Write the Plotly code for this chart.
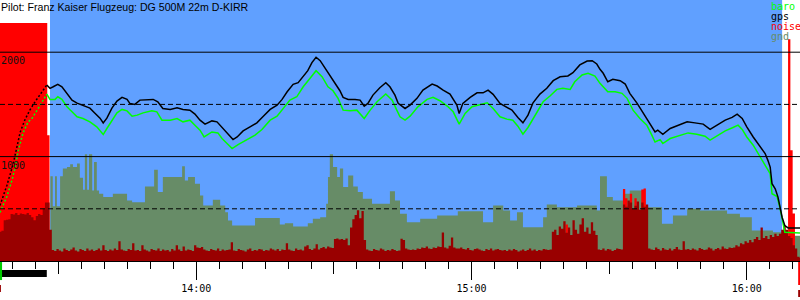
import pandas as pd
import plotly.graph_objects as go

BASE = pd.Timestamp("2000-01-01 13:00:00")


def T(mins):
    return [BASE + pd.Timedelta(minutes=m) for m in mins]


title_text = "Pilot: Franz Kaiser Flugzeug: DG 500M 22m D-KIRR"
hour_ticks = [60, 120, 180]
hour_labels = ["14:00", "15:00", "16:00"]
half_ticks = [30, 60, 90, 120, 150, 180]
legend_items = ["baro", "gps", "noise", "gnd"]
y_labels = [2000, 1000]

# times are minutes after 13:00
view_start, view_end = 17.2, 191.6
task_start, task_end = 28.1, 187.7
motor_end = 27.4

gps_t = [17.2, 18.7, 20.0, 20.9, 21.6, 22.6, 23.7, 24.8, 25.9, 27.4,
         28.1, 28.8, 29.8, 30.7, 31.8, 32.9, 34.0, 35.3, 36.8, 37.9, 39.0, 39.7, 40.5, 41.6, 42.7,
         43.8, 44.9, 45.5, 46.6, 47.7, 49.2, 50.6, 51.6, 52.7, 54.3, 55.8, 57.1, 58.6, 59.7, 60.8,
         61.9, 63.4, 64.5, 65.2, 66.3, 67.3, 68.0, 68.9, 70.2, 71.7, 73.2, 74.5, 76.1, 77.6, 78.7,
         79.8, 81.1, 82.2, 83.3, 84.3, 85.2, 86.1, 87.0, 88.1, 89.1, 90.2, 91.3, 92.0, 93.1, 94.6,
         95.7, 96.6, 97.4, 98.5, 100.0, 101.3, 102.2, 103.3, 104.0, 105.5, 106.6, 108.1, 109.4,
         111.4, 112.5, 113.8, 115.3, 116.8, 117.3, 118.1, 119.7, 121.2, 122.5, 123.6, 124.7, 126.2,
         127.7, 128.8, 130.1, 131.2, 132.3, 133.4, 134.9, 136.4, 137.8, 139.3, 141.0, 142.1, 143.6,
         145.2, 146.3, 147.3, 148.0, 148.7, 149.7, 150.8, 152.4, 153.5, 154.5, 156.1, 157.4, 158.9,
         160.0, 160.6, 161.7, 163.3, 165.0, 167.0, 168.7, 170.5, 172.0, 173.5, 175.3, 176.8, 177.9,
         179.0, 180.0, 181.4, 182.9, 184.0, 184.6, 185.1, 185.5, 186.2, 186.8, 187.7, 188.3, 189.0,
         191.6]
gps_alt = [532, 724, 916, 1109, 1234, 1349, 1445, 1522, 1589, 1686,
           1654, 1669, 1692, 1669, 1606, 1541, 1512, 1493, 1464, 1416, 1368, 1323, 1368, 1464, 1532,
           1567, 1548, 1510, 1500, 1541, 1548, 1548, 1525, 1461, 1452, 1467, 1452, 1445, 1407, 1349,
           1311, 1342, 1333, 1301, 1246, 1195, 1163, 1188, 1246, 1285, 1323, 1381, 1452, 1493, 1548,
           1621, 1692, 1708, 1772, 1823, 1900, 1952, 1919, 1846, 1788, 1717, 1631, 1567, 1548, 1548,
           1541, 1484, 1510, 1589, 1660, 1708, 1669, 1589, 1510, 1461, 1493, 1558, 1637,
           1695, 1676, 1637, 1599, 1493, 1413, 1510, 1567, 1611, 1611, 1637, 1596, 1510,
           1477, 1445, 1375, 1323, 1397, 1515, 1599, 1654, 1727, 1765, 1772, 1804, 1878,
           1916, 1919, 1887, 1836, 1798, 1717, 1740, 1727, 1695, 1606, 1510, 1419, 1317,
           1236, 1253, 1214, 1269, 1301, 1333, 1323, 1311, 1260, 1301, 1349, 1375, 1407,
           1365, 1285, 1188, 1099, 1029, 964, 900, 740, 692, 612, 419, 339, 317,
           317]

baro_t = [17.2, 18.7, 19.8, 20.5, 21.1, 21.6, 22.2, 23.3, 24.2, 25.3, 26.4, 27.4,
          28.1, 29.2, 29.8, 30.7, 31.8, 32.9, 34.0, 35.3, 36.8, 38.3, 39.7, 40.5, 41.6, 42.7,
          43.8, 44.9, 46.0, 47.1, 48.4, 50.3, 51.4, 52.5, 54.3, 55.8, 57.1, 58.6, 59.7, 60.8,
          61.7, 63.4, 64.7, 65.6, 66.7, 67.8, 69.1, 71.0, 72.8, 74.3, 76.1, 77.6, 78.9, 80.4,
          81.9, 83.3, 84.8, 86.1, 87.4, 88.7, 89.8, 90.9, 92.0, 93.5, 95.0, 95.7, 96.6, 97.9,
          99.4, 101.3, 102.7, 103.7, 104.4, 105.5, 106.6, 108.3, 110.3, 111.6, 113.1, 114.7,
          116.0, 117.3, 118.6, 120.1, 121.8, 123.4, 124.7, 126.2, 127.7, 129.0, 130.1, 131.2,
          132.3, 133.8, 135.6, 137.1, 138.6, 139.9, 141.5, 142.5, 144.1, 145.4, 146.9, 148.0,
          148.9, 149.7, 151.3, 152.8, 153.9, 155.2, 156.7, 158.2, 159.3, 160.0, 161.1, 161.7,
          163.3, 165.4, 167.2, 169.1, 170.9, 172.0, 173.5, 175.3, 177.0, 178.1, 179.0, 180.0,
          181.4, 182.9, 184.0, 185.1, 185.5, 186.6, 187.2, 187.9, 188.3, 191.6]
baro_alt = [464, 618, 772, 897, 1041, 1128, 1224, 1330, 1368, 1445, 1522, 1599,
            1548, 1548, 1573, 1548, 1477, 1429, 1381, 1365, 1333, 1285, 1211, 1269, 1349, 1419,
            1452, 1438, 1387, 1397, 1419, 1438, 1429, 1349, 1349, 1365, 1333, 1349, 1301, 1253,
            1188, 1236, 1227, 1173, 1125, 1077, 1115, 1163, 1205, 1260, 1349, 1387, 1461, 1541,
            1573, 1669, 1750, 1823, 1765, 1669, 1631, 1558, 1445, 1438, 1445, 1413, 1365, 1445,
            1525, 1599, 1541, 1445, 1381, 1349, 1387, 1477, 1548, 1567, 1535, 1484,
            1429, 1311, 1413, 1477, 1493, 1515, 1461, 1381, 1359, 1349, 1291, 1214,
            1279, 1397, 1525, 1580, 1644, 1654, 1644, 1717, 1782, 1798, 1772, 1702,
            1654, 1621, 1621, 1606, 1558, 1445, 1365, 1301, 1205, 1140, 1163, 1125,
            1173, 1205, 1227, 1214, 1195, 1157, 1195, 1246, 1279, 1301, 1260, 1188,
            1109, 996, 916, 836, 644, 618, 515, 371, 275, 269]

gnd_t = [28.2, 28.7, 29.2, 29.6, 30.3, 30.9, 31.8, 32.5, 33.1, 34.0, 34.6, 35.3, 35.7, 36.2,
         36.6, 37.3, 37.7, 38.3, 38.8, 39.7, 41.8, 44.9, 46.0, 48.8, 50.8, 51.6, 52.7, 56.9,
         57.5, 58.2, 59.7, 60.8, 61.5, 63.6, 65.2, 66.3, 66.9, 67.8, 72.8, 78.2, 79.3, 81.1,
         84.3, 85.4, 87.0, 88.3, 88.7, 89.1, 89.8, 90.7, 91.3, 92.0, 93.1, 94.2, 95.2, 96.3,
         98.3, 102.2, 103.3, 104.4, 105.9, 108.8, 112.5, 117.0, 122.5, 124.7, 126.9, 128.4,
         129.9, 131.2, 135.6, 136.4, 138.6, 143.0, 147.3, 148.0, 149.5, 150.8, 153.0, 154.5,
         157.4, 158.5, 161.5, 163.9, 167.0, 169.8, 175.7, 178.5, 181.1, 185.7, 187.7, 191.6]
gnd_alt = [811, 525, 811, 525, 811, 887, 900, 926, 900, 933, 798, 683, 1022, 683,
           1022, 676, 948, 676, 644, 612, 644, 580, 563, 714, 875, 660, 804, 907,
           772, 804, 740, 628, 532, 587, 532, 467, 387, 339, 413, 349, 362, 330,
           362, 404, 419, 548, 804, 1022, 900, 804, 885, 708, 820, 714, 660, 596,
           548, 669, 580, 452, 371, 404, 436, 477, 371, 532, 484, 387,
           467, 323, 419, 541, 515, 532, 484, 811, 612, 580, 644, 676,
           532, 515, 356, 436, 500, 484, 452, 419, 291, 275, 243, 243]

# engine noise, one value per 30 s from 13:17:00
noise_start = 17.0
noise_step = 0.5
noise = [
    280, 290, 390, 395, 400, 450, 445, 460, 440, 455, 450, 445, 460, 440, 420, 390, 430, 450, 440, 500,
    560, 560, 300, 105, 95, 115, 100, 90, 120, 105, 95, 110, 130, 100, 90, 115, 105, 95, 120, 100,
    110, 95, 105, 120, 100, 150, 105, 95, 110, 100, 120, 105, 190, 110, 100, 95, 115, 105, 170, 100,
    105, 95, 150, 110, 100, 90, 115, 105, 100, 120, 95, 110, 100, 105, 90, 115, 100, 150, 110, 95,
    140, 100, 110, 105, 95, 150, 130, 125, 135, 110, 100, 95, 115, 105, 100, 120, 95, 110, 100, 105,
    110, 180, 100, 95, 115, 105, 100, 90, 110, 120, 95, 105, 100, 115, 110, 95, 105, 100, 120, 110,
    100, 115, 95, 110, 105, 170, 110, 100, 95, 120, 105, 110, 100, 140, 150, 115, 105, 120, 160, 110,
    125, 135, 120, 140, 130, 125, 210, 215, 205, 210, 200, 215, 150, 320, 400, 440, 485, 410, 480, 200,
    110, 100, 95, 115, 105, 100, 120, 110, 95, 105, 100, 115, 105, 95, 100, 213, 200, 120, 110, 105,
    110, 105, 120, 115, 130, 125, 140, 120, 115, 130, 125, 140, 135, 272, 130, 120, 145, 224, 130, 120,
    120, 130, 115, 110, 125, 105, 100, 115, 120, 110, 100, 95, 115, 105, 120, 100, 110, 115, 105, 100,
    105, 95, 110, 100, 115, 105, 90, 100, 110, 95, 105, 120, 100, 110, 95, 105, 100, 115, 110, 105,
    110, 280, 300, 250, 330, 310, 380, 270, 320, 250, 390, 300, 260, 350, 410, 280, 320, 260, 370, 290,
    250, 110, 105, 120, 100, 115, 110, 95, 105, 120, 115, 110, 540, 520, 580, 560, 500, 530, 570, 490,
    560, 520, 540, 120, 110, 105, 130, 115, 100, 125, 110, 105, 120, 100, 115, 135, 110, 105, 190, 110,
    115, 105, 120, 110, 100, 125, 115, 105, 110, 130, 120, 100, 115, 125, 110, 140, 120, 115, 130, 125,
    130, 150, 140, 170, 160, 190, 175, 200, 180, 210, 230, 200, 320, 220, 240, 210, 250, 230, 260, 240,
    260, 300, 340, 300, 240, 220, 150, 120, 40, 30,
]

# noise peaks above the smoothed level (start of each 30 s interval)
noise_hi_t = [17.0, 17.5, 18.0, 18.5, 19.0, 19.5, 20.0, 20.5, 21.0, 21.5, 22.0, 22.5, 23.0,
              23.5, 24.0, 24.5, 25.0, 25.5, 26.0, 26.5, 27.0, 27.5,
              140.5, 153.0, 153.5, 154.5, 155.5, 157.0, 157.5, 189.0, 189.5, 190.0]
noise_hi = [2280, 2280, 2280, 2280, 2280, 2280, 2280, 2280, 2280, 2280, 2280, 2280, 2280,
            2280, 2280, 2280, 2280, 2280, 2280, 2280, 2280, 1205,
            350, 690, 600, 645, 600, 685, 695, 2125, 1060, 455]

BLUE = "rgb(96,160,255)"
GND = "rgb(103,140,103)"
DRED = "#990000"
RED = "#ff0000"
GREEN = "#00ff00"
MONO = "DejaVu Sans Mono"


def step_area(xs, ys, color):
    return go.Scatter(x=T(xs), y=ys, mode="lines", line=dict(width=0, shape="hv"),
                      fill="tozeroy", fillcolor=color, hoverinfo="skip")


fig = go.Figure()

# ground elevation
fig.add_trace(step_area(gnd_t, gnd_alt, GND))

# noise peaks (bright red), built as isolated steps
hx, hy = [], []
for t, v in zip(noise_hi_t, noise_hi):
    hx += [t, t + noise_step]
    hy += [v, 0]
fig.add_trace(step_area(hx, hy, RED))

# noise level (dark red)
noise_t = [noise_start + noise_step * i for i in range(len(noise) + 1)]
fig.add_trace(step_area(noise_t, noise + [noise[-1]], DRED))

for tt, vv, col in [(baro_t, baro_alt, GREEN), (gps_t, gps_alt, "black")]:
    ct = [t for t in tt if t <= motor_end]
    cv = [v for t, v in zip(tt, vv) if t <= motor_end]
    ft = [t for t in tt if t >= motor_end]
    fv = [v for t, v in zip(tt, vv) if t >= motor_end]
    fig.add_trace(go.Scatter(x=T(ct), y=cv, mode="lines", line=dict(color=col, width=1.5, dash="2px,2px")))
    fig.add_trace(go.Scatter(x=T(ft), y=fv, mode="lines", line=dict(color=col, width=1.5)))

# dummy trace for the hour-tick axis
fig.add_trace(go.Scatter(x=T([view_start, view_end]), y=[None, None], xaxis="x2", mode="lines",
                         hoverinfo="skip"))

shapes = [
    dict(type="rect", xref="x", yref="paper", x0=T([task_start])[0], x1=T([task_end])[0],
         y0=0, y1=1, fillcolor=BLUE, line=dict(width=0), layer="below"),
]
for v in (1000, 2000):
    shapes.append(dict(type="line", xref="paper", yref="y", x0=0, x1=1, y0=v, y1=v,
                       line=dict(color="black", width=1), layer="above"))
for v in (500, 1500):
    shapes.append(dict(type="line", xref="paper", yref="y", x0=0, x1=1, y0=v, y1=v,
                       line=dict(color="black", width=1, dash="5px,3px"), layer="above"))
# small indicator marks below the time axis
shapes += [
    dict(type="rect", xref="x", yref="paper", x0=T([view_start])[0], x1=T([motor_end])[0],
         y0=-0.0345, y1=-0.0613, fillcolor="black", line=dict(width=0)),
    dict(type="rect", xref="x", yref="paper", x0=T([view_start])[0], x1=T([view_start + 0.45])[0],
         y0=-0.004, y1=-0.073, fillcolor="#00cc00", line=dict(width=0)),
    dict(type="rect", xref="x", yref="paper", x0=T([view_start])[0], x1=T([view_start + 0.2])[0],
         y0=-0.092, y1=-0.119, fillcolor=DRED, line=dict(width=0)),
    dict(type="rect", xref="x", yref="paper", x0=T([view_end - 0.4])[0], x1=T([view_end])[0],
         y0=-0.004, y1=-0.092, fillcolor=RED, line=dict(width=0)),
    dict(type="rect", xref="x", yref="paper", x0=T([view_end - 0.4])[0], x1=T([view_end])[0],
         y0=-0.111, y1=-0.138, fillcolor=DRED, line=dict(width=0)),
]

ann = [dict(text=title_text, xref="paper", yref="paper", x=0, y=1, xanchor="left", yanchor="top",
            showarrow=False, font=dict(family="Liberation Sans", size=10.6, color="black"),
            xshift=-1, yshift=1)]
leg_cols = [GREEN, "black", RED, GND]
for i, (name, col) in enumerate(zip(legend_items, leg_cols)):
    ann.append(dict(text=name, xref="paper", yref="paper", x=769 / 800, y=1, xanchor="left",
                    yanchor="top", yshift=1 - 10 * i, showarrow=False,
                    font=dict(family=MONO, size=10, color=col)))
for v in y_labels:
    ann.append(dict(text=str(v), xref="paper", yref="y", x=0, y=v, xanchor="left", yanchor="top",
                    xshift=-1, yshift=-1, showarrow=False, font=dict(family=MONO, size=10, color="#111")))

rng = T([view_start, view_end])
fig.update_layout(
    width=800, height=300, margin=dict(l=0, r=0, t=0, b=39),
    paper_bgcolor="white", plot_bgcolor="white", showlegend=False,
    shapes=shapes, annotations=ann,
    xaxis=dict(type="date", range=rng, showgrid=False, zeroline=False, showline=True,
               linecolor="black", linewidth=1, ticks="outside", ticklen=12, tickcolor="black",
               tickvals=T(half_ticks), showticklabels=False,
               minor=dict(ticks="outside", ticklen=7, dtick=300000, tickcolor="black", showgrid=False)),
    xaxis2=dict(type="date", range=rng, overlaying="x", anchor="y", side="bottom", showgrid=False,
                zeroline=False, showline=False, ticks="outside", ticklen=18, tickcolor="black",
                tickvals=T(hour_ticks), ticktext=hour_labels,
                tickfont=dict(family=MONO, size=10, color="black")),
    yaxis=dict(range=[0, 2500], visible=False, fixedrange=True),
)

fig.write_html("out.html")
